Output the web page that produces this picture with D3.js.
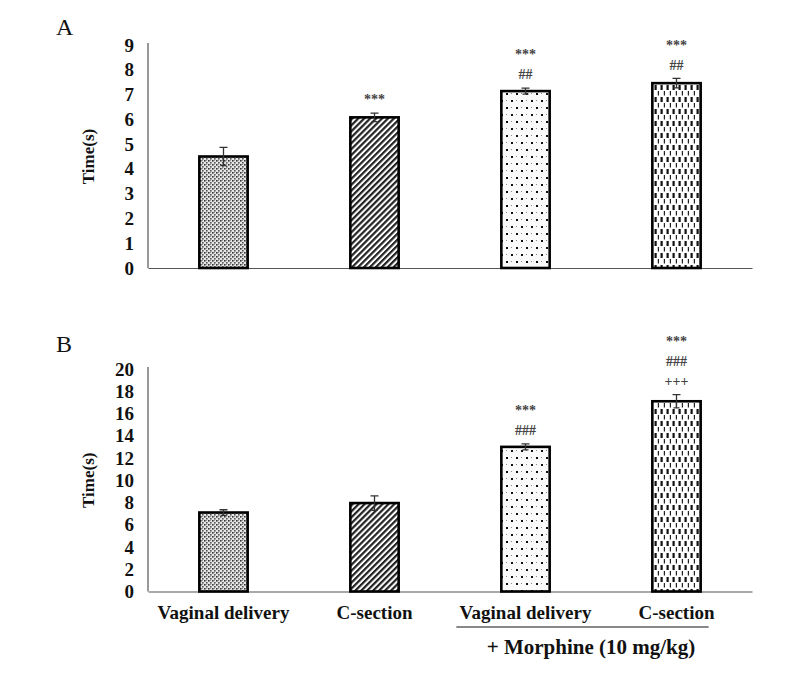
<!DOCTYPE html>
<html>
<head>
<meta charset="utf-8">
<title>Time(s) by delivery mode</title>
<style>
body { margin: 0; background: #fff; }
svg { display: block; font-family: "Liberation Serif", "Times New Roman", serif; }
.tick text { font-family: "Liberation Serif", "Times New Roman", serif; font-weight: bold; font-size: 19px; fill: #111; }
.domain { stroke: #555; stroke-width: 1.2; }
</style>
</head>
<body>
<svg></svg>
<script src="https://d3js.org/d3.v7.min.js"></script>
<script>
// values
const groups = ['VD', 'CS', 'VD+M', 'CS+M'];
const groupLabels = ['Vaginal delivery', 'C-section', 'Vaginal delivery', 'C-section'];
const meansA = [4.5, 6.08, 7.14, 7.46];
const errA = [0.37, 0.17, 0.12, 0.19];
const marksA = [[], ['***'], ['***', '##'], ['***', '##']];
const ticksA = [0, 1, 2, 3, 4, 5, 6, 7, 8, 9];
const meansB = [7.1, 7.95, 13.0, 17.1];
const errB = [0.25, 0.65, 0.27, 0.6];
const marksB = [[], [], ['***', '###'], ['***', '###', '+++']];
const ticksB = [0, 2, 4, 6, 8, 10, 12, 14, 16, 18, 20];

const W = 786, H = 683;
const svg = d3.select('svg').attr('width', W).attr('height', H);
const defs = svg.append('defs');

// fill patterns
const p1 = defs.append('pattern').attr('id', 'p0').attr('patternUnits', 'userSpaceOnUse')
  .attr('width', 4).attr('height', 4);
p1.append('rect').attr('width', 4).attr('height', 4).attr('fill', '#e6e6e6');
p1.append('rect').attr('x', 0).attr('y', 0).attr('width', 1.6).attr('height', 1.6).attr('fill', '#333');
p1.append('rect').attr('x', 2).attr('y', 2).attr('width', 1.6).attr('height', 1.6).attr('fill', '#555');
p1.append('rect').attr('x', 2).attr('y', 0).attr('width', 1).attr('height', 1).attr('fill', '#999');

const p2 = defs.append('pattern').attr('id', 'p1').attr('patternUnits', 'userSpaceOnUse')
  .attr('width', 4.2).attr('height', 4.2).attr('patternTransform', 'rotate(45)');
p2.append('rect').attr('width', 4.2).attr('height', 4.2).attr('fill', '#fff');
p2.append('rect').attr('width', 2.2).attr('height', 4.2).attr('fill', '#222');

const p3 = defs.append('pattern').attr('id', 'p2').attr('patternUnits', 'userSpaceOnUse')
  .attr('width', 10).attr('height', 14);
p3.append('rect').attr('width', 10).attr('height', 14).attr('fill', '#fafafa');
p3.append('rect').attr('x', 1).attr('y', 2).attr('width', 2).attr('height', 2).attr('fill', '#111');
p3.append('rect').attr('x', 6).attr('y', 9).attr('width', 2).attr('height', 2).attr('fill', '#111');
p3.append('rect').attr('x', 6).attr('y', 2).attr('width', 1).attr('height', 1).attr('fill', '#888');
p3.append('rect').attr('x', 1).attr('y', 9).attr('width', 1).attr('height', 1).attr('fill', '#888');

const p4 = defs.append('pattern').attr('id', 'p3').attr('patternUnits', 'userSpaceOnUse')
  .attr('width', 6).attr('height', 12);
p4.append('rect').attr('width', 6).attr('height', 12).attr('fill', '#fff');
p4.append('rect').attr('x', 0.5).attr('y', 1).attr('width', 2.2).attr('height', 5).attr('fill', '#111');
p4.append('rect').attr('x', 3.8).attr('y', 7).attr('width', 1.2).attr('height', 4.5).attr('fill', '#222');

const x = d3.scaleBand(groups, [148, 752]).paddingInner(0.68).paddingOuter(0.34);

function panel(cfg) {
  const y = d3.scaleLinear([0, cfg.max], [cfg.bottom, cfg.top]);
  const g = svg.append('g');

  g.append('text').text(cfg.letter)
    .attr('x', 56).attr('y', cfg.letterY)
    .style('font-size', '24px').attr('fill', '#111');

  g.append('g').attr('transform', 'translate(148,0)')
    .call(d3.axisLeft(y).tickValues(cfg.ticks).tickSize(0).tickPadding(14))
    .call(a => a.select('.domain').attr('d', `M0,${cfg.bottom}V${cfg.top - 2}`));

  g.append('text').text('Time(s)')
    .attr('transform', `translate(94,${(cfg.top + cfg.bottom) / 2}) rotate(-90)`)
    .attr('text-anchor', 'middle')
    .style('font-weight', 'bold').style('font-size', '17px').attr('fill', '#111');

  const xa = g.append('g').attr('transform', `translate(0,${cfg.bottom})`)
    .call(d3.axisBottom(x).tickSize(0).tickPadding(14)
      .tickFormat((d, i) => cfg.showLabels ? groupLabels[i] : ''));
  xa.selectAll('.tick text').style('font-size', '19px');

  const bars = g.selectAll('.bar').data(groups).join('g').attr('class', 'bar');
  bars.append('rect')
    .attr('x', d => x(d)).attr('width', x.bandwidth())
    .attr('y', (d, i) => y(cfg.means[i]))
    .attr('height', (d, i) => cfg.bottom - y(cfg.means[i]))
    .attr('fill', (d, i) => `url(#p${i})`)
    .attr('stroke', '#000').attr('stroke-width', 2.6);

  const cx = d => x(d) + x.bandwidth() / 2;
  bars.append('path')
    .attr('d', (d, i) => {
      const hi = y(cfg.means[i] + cfg.err[i]), lo = y(cfg.means[i] - cfg.err[i]);
      return `M${cx(d)},${lo}V${hi}M${cx(d) - 4},${hi}H${cx(d) + 4}M${cx(d) - 3},${lo}H${cx(d) + 3}`;
    })
    .attr('stroke', '#333').attr('stroke-width', 1.3).attr('fill', 'none');

  bars.each(function (d, i) {
    const top = y(cfg.means[i] + cfg.err[i]);
    const m = cfg.marks[i];
    d3.select(this).selectAll('text.mk').data(m.slice().reverse()).join('text')
      .attr('class', 'mk')
      .attr('x', cx(d))
      .attr('y', (t, k) => top - 12 - k * 20)
      .attr('text-anchor', 'middle').attr('dominant-baseline', 'middle')
      .style('font-size', '14px').style('font-weight', 'bold').attr('fill', '#444')
      .text(t => t);
  });
  return g;
}

panel({ letter: 'A', letterY: 35, max: 9, top: 45, bottom: 268, ticks: ticksA,
        means: meansA, err: errA, marks: marksA, showLabels: false });
const gB = panel({ letter: 'B', letterY: 352, max: 20, top: 369, bottom: 591.5, ticks: ticksB,
        means: meansB, err: errB, marks: marksB, showLabels: true });

// morphine bracket under the last two groups
gB.append('line')
  .attr('x1', x('VD+M') - 45).attr('x2', x('CS+M') + x.bandwidth() + 8)
  .attr('y1', 627).attr('y2', 627).attr('stroke', '#111').attr('stroke-width', 1);
gB.append('text').text('+ Morphine (10 mg/kg)')
  .attr('x', (x('VD+M') + x('CS+M') + x.bandwidth()) / 2 - 10).attr('y', 654)
  .attr('text-anchor', 'middle')
  .style('font-weight', 'bold').style('font-size', '21px').attr('fill', '#111');
</script>
</body>
</html>
